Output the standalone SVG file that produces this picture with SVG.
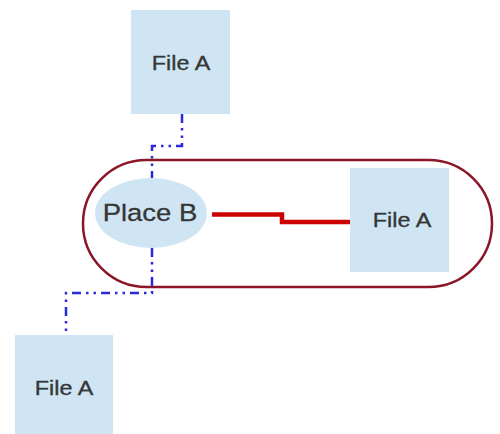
<svg xmlns="http://www.w3.org/2000/svg" width="500" height="434" viewBox="0 0 500 434">
<style>
.box{fill:#cfe5f3;stroke:none}
.lbl{font-family:"Liberation Sans",Arial,sans-serif;fill:#363636;text-anchor:middle;stroke:#363636;stroke-width:0.3}
.dash{fill:none;stroke:#2a2ad8;stroke-width:2.5;stroke-dasharray:9,5,2.5,5,2.5,5}
</style>
<rect width="500" height="434" fill="#ffffff"/>
<g id="pill">
<rect x="83" y="160" width="409" height="127" rx="63.5" ry="63.5" fill="none" stroke="#8a1628" stroke-width="2.5"/>
</g>
<g id="connectors">
<path class="dash" d="M182,114 V146 H152 V178"/>
<path class="dash" d="M152,248 V293 H66 V335"/>
<path d="M212,214.5 H282 V222 H352" fill="none" stroke="#cc0000" stroke-width="4.5"/>
</g>
<g id="fileA-top">
<rect class="box" x="131" y="10" width="99" height="104"/>
<text class="lbl" transform="translate(181,70) scale(1.2,1)" font-size="19.5">File A</text>
</g>
<g id="placeB">
<ellipse cx="151" cy="213" rx="56" ry="35" fill="#cfe5f3"/>
<text class="lbl" transform="translate(150,221) scale(1.17,1)" font-size="23.5">Place B</text>
</g>
<g id="fileA-right">
<rect class="box" x="350" y="168" width="99" height="104"/>
<text class="lbl" transform="translate(402,227) scale(1.2,1)" font-size="19.5">File A</text>
</g>
<g id="fileA-bottom">
<rect class="box" x="15" y="335" width="98" height="99"/>
<text class="lbl" transform="translate(64,395) scale(1.2,1)" font-size="19.5">File A</text>
</g>
</svg>
